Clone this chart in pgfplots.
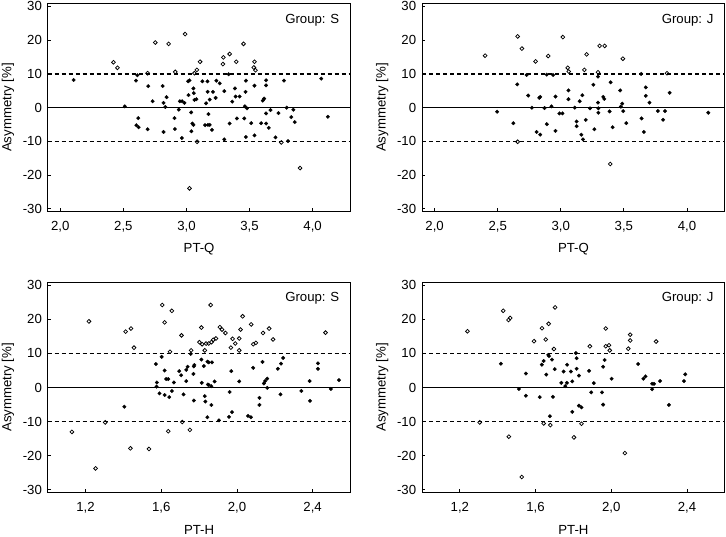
\documentclass[border=0pt]{standalone}
\usepackage{fontspec}
\setmainfont{Liberation Sans}
\usepackage{pgfplots}
\pgfplotsset{compat=1.18}

\newcommand\lblfont{\fontsize{13.2}{15}\selectfont}

\pgfplotsset{
  panel/.style={
    scale only axis, width=302.8pt, height=209.8pt,
    ymin=-30.7, ymax=30.8, ytick={-30,-20,-10,0,10,20,30},
    tick align=inside, xtick pos=bottom, ytick pos=left,
    major tick length=3pt,
    every tick/.style={black, line width=0.9pt},
    axis line style={line width=1pt},
    /pgf/number format/assume math mode=true,
    tick label style={font=\lblfont},
    xticklabel style={/pgf/number format/.cd, fixed, fixed zerofill, precision=1, use comma, /tikz/.cd, yshift=-6pt},
    yticklabel style={xshift=-2.3pt},
    every axis x label/.style={at={(rel axis cs:0.5,0)}, yshift=-37.5pt, anchor=center, font=\lblfont},
    every axis y label/.style={at={(rel axis cs:0,0.5)}, xshift=-39.7pt, rotate=90, anchor=center, font=\lblfont},
    ylabel={Asymmetry [\%]},
  },
  toprow/.style={height=207.6pt},
  inside/.style={only marks, mark=*, mark size=1.8pt, mark options={fill=black, draw=black, line width=0.3pt}},
  outside/.style={only marks, mark=o, mark size=1.9pt, mark options={draw=black, line width=0.75pt}},
  zeroline/.style={black, line width=1.5pt, forget plot},
  limitline/.style={black, line width=1.3pt, dash pattern=on 4pt off 3pt, forget plot},
}

\newcommand\grouplabel[1]{\node[anchor=north east, inner sep=0pt, font=\lblfont] at (rel axis cs:1,1) [xshift=-11pt, yshift=-10pt] {#1};}

\begin{document}
\begin{tikzpicture}
\useasboundingbox (0pt,0pt) rectangle (726pt,536pt);

% ---------------- PT-Q, group S ----------------
\begin{axis}[panel, toprow, at={(47.7pt,324.7pt)}, anchor=south west,
  xmin=1.9, xmax=4.3, xtick={2,2.5,3,3.5,4}, xlabel={PT-Q}]
\addplot[zeroline] coordinates {(1.9,0) (4.3,0)};
\addplot[limitline] coordinates {(1.9,10) (4.3,10)};
\addplot[limitline] coordinates {(1.9,-10) (4.3,-10)};
\addplot[inside] coordinates {
(2.105,8.2)(2.511,0.4)(2.600,8.0)(2.611,9.6)(2.697,6.4)(2.732,1.9)(2.811,6.4)
(2.842,3.1)(2.818,1.4)(2.832,0.2)(2.618,-3.1)(2.603,-5.2)(2.621,-5.8)(2.692,-6.4)
(2.818,-7.2)(2.905,-3.1)(2.908,-6.3)(2.939,-0.6)(2.947,1.9)(2.966,1.9)(2.984,1.4)
(2.963,-9.0)(3.013,7.8)(3.024,8.1)(3.016,3.7)(3.055,5.7)(3.058,4.3)(3.063,2.3)
(3.079,2.5)(3.037,-1.4)(3.047,-4.7)(3.055,-5.1)(3.039,-7.0)(3.126,7.8)(3.166,7.8)
(3.168,4.7)(3.155,1.3)(3.174,-1.9)(3.147,-5.2)(3.171,-5.1)
(3.237,8.0)(3.263,7.2)(3.334,9.9)(3.210,4.7)(3.231,2.9)(3.184,2.4)(3.300,4.9)
(3.384,5.7)(3.389,3.3)(3.421,3.3)(3.363,1.8)(3.468,4.7)(3.471,8.0)(3.539,6.5)
(3.463,0.4)(3.479,-0.2)(3.631,8.1)(3.631,6.6)(3.616,2.7)(3.605,2.1)(3.773,8.0)
(4.068,8.6)(3.666,-0.7)(3.729,-1.6)(3.794,0.0)(3.847,-0.6)(3.184,-5.1)(3.202,-6.6)
(3.342,-4.7)(3.400,-3.2)(3.458,-3.2)(3.513,-4.6)(3.592,-4.6)(3.631,-4.7)(3.652,-6.0)
(3.631,-1.7)(3.831,-2.8)(3.858,-4.3)(4.121,-2.7)(3.300,-9.4)(3.471,-8.7)(3.539,-8.2)
(3.705,-8.8)(3.805,-9.9)
};
\addplot[outside] coordinates {
(2.421,13.45)(2.453,11.8)(2.692,10.2)(2.753,19.3)(2.858,18.9)(2.911,10.6)(2.989,21.8)
(3.063,10.2)(3.082,11.2)(3.108,13.6)(3.084,-10.1)(3.024,-23.9)(3.292,14.9)(3.342,15.9)
(3.289,12.9)(3.394,13.6)(3.452,18.9)(3.539,13.6)(3.534,11.9)(3.547,11.1)(3.752,-10.3)
(3.900,-17.9)
};
\grouplabel{Group: S}
\end{axis}

% ---------------- PT-Q, group J ----------------
\begin{axis}[panel, toprow, at={(422pt,324.7pt)}, anchor=south west,
  xmin=1.9, xmax=4.3, xtick={2,2.5,3,3.5,4}, xlabel={PT-Q}]
\addplot[zeroline] coordinates {(1.9,0) (4.3,0)};
\addplot[limitline] coordinates {(1.9,10) (4.3,10)};
\addplot[limitline] coordinates {(1.9,-10) (4.3,-10)};
\addplot[inside] coordinates {
(2.729,9.7)(2.889,9.8)(2.939,9.7)(2.655,6.9)(2.742,3.6)(2.829,2.9)(2.837,3.2)
(2.958,3.3)(2.771,0.0)(2.871,-0.1)(2.926,0.4)(2.989,-1.7)(3.013,-1.7)(3.061,5.1)
(3.061,2.5)(2.495,-1.2)(2.624,-4.6)(2.889,-4.9)(2.808,-7.2)(2.837,-8.0)(2.958,-6.9)
(3.111,0.0)(3.150,1.9)(3.171,3.7)(3.232,-0.2)(3.258,6.8)(3.295,9.2)(3.295,1.5)
(3.298,-0.2)(3.298,-1.5)(3.337,3.2)(3.345,2.6)(3.387,-1.1)(3.395,7.5)(3.471,5.1)
(3.476,0.3)(3.487,1.2)(3.495,-1.0)(3.126,-4.1)(3.126,-5.5)(3.198,-3.6)(3.163,-8.0)
(3.176,-9.4)(3.266,-6.4)(3.411,-5.8)(3.519,-4.6)(3.637,10.0)(3.674,6.0)(3.674,3.5)
(3.703,1.5)(3.640,-3.2)(3.658,-7.2)(3.769,-1.0)(3.826,-1.0)(3.811,-3.6)(3.863,4.4)
(4.169,-1.5)
};
\addplot[outside] coordinates {
(2.400,15.4)(2.658,21.1)(2.692,17.5)(2.800,13.7)(2.900,15.3)(3.016,20.9)(3.055,11.8)
(3.063,10.7)(2.658,-10.1)(3.205,15.8)(3.308,18.3)(3.348,18.3)(3.492,14.5)(3.187,11.2)
(3.295,10.5)(3.842,10.2)(3.392,-16.7)
};
\grouplabel{Group: J}
\end{axis}

% ---------------- PT-H, group S ----------------
\begin{axis}[panel, at={(47.7pt,43.7pt)}, anchor=south west,
  xmin=1.0, xmax=2.6, xtick={1.2,1.6,2.0,2.4}, xlabel={PT-H}]
\addplot[zeroline] coordinates {(1.0,0) (2.6,0)};
\addplot[limitline] coordinates {(1.0,10) (2.6,10)};
\addplot[limitline] coordinates {(1.0,-10) (2.6,-10)};
\addplot[inside] coordinates {
(1.405,-5.6)(1.572,6.9)(1.602,9.0)(1.618,5.0)(1.626,2.5)(1.637,2.5)(1.577,1.5)
(1.575,0.3)(1.591,-1.7)(1.618,-2.2)(1.642,-2.8)(1.656,-1.0)(1.667,1.5)(1.695,4.8)
(1.705,3.6)(1.732,5.2)(1.739,6.1)(1.732,1.9)(1.718,-2.0)(1.756,9.9)(1.772,6.2)
(1.775,6.6)(1.770,4.0)(1.772,-3.8)(1.812,8.2)(1.825,6.3)(1.814,1.4)(1.830,-2.5)
(1.833,-4.1)(1.844,-8.7)(1.846,0.9)(1.844,7.6)
(1.851,7.4)(1.868,7.4)(1.851,0.8)(1.865,0.4)(1.882,1.8)(1.865,-5.1)(1.905,-9.6)
(1.958,-8.6)(1.974,-7.2)(1.961,-1.3)(1.970,4.8)(2.012,1.8)(2.058,-8.3)(2.074,-8.7)
(2.086,5.8)(2.135,7.5)(2.119,-3.0)(2.119,-5.1)(2.142,1.2)(2.149,1.9)(2.160,2.6)
(2.160,-0.1)(2.216,5.5)(2.233,7.0)(2.244,8.7)(2.230,-2.0)(2.340,-1.0)(2.384,1.9)
(2.386,-3.9)(2.428,7.1)(2.428,5.5)(2.496,-0.4)(2.539,2.2)
};
\addplot[outside] coordinates {
(1.128,-13.0)(1.218,19.4)(1.253,-23.7)(1.304,-10.2)(1.412,16.4)(1.440,17.3)(1.456,11.7)
(1.437,-17.8)(1.535,-18.0)(1.605,24.2)(1.618,19.1)(1.656,22.5)(1.637,-12.8)(1.646,10.5)
(1.707,15.3)(1.711,-10.1)(1.751,-12.4)(1.758,10.9)(1.812,17.6)(1.802,13.3)(1.816,12.7)
(1.837,12.9)(1.830,10.9)(1.861,24.2)(1.851,12.9)(1.865,13.3)(1.875,14.0)(1.889,14.4)
(1.910,17.7)(1.921,17.0)(1.939,16.0)(1.977,14.3)(1.991,12.9)(1.968,11.7)(2.012,14.4)
(2.012,10.9)(2.019,17.0)(2.030,20.9)(2.075,18.5)(2.086,12.7)(2.100,13.1)(2.138,16.0)
(2.170,17.3)(2.191,14.1)(2.468,16.1)
};
\grouplabel{Group: S}
\end{axis}

% ---------------- PT-H, group J ----------------
\begin{axis}[panel, at={(422pt,43.7pt)}, anchor=south west,
  xmin=1.0, xmax=2.6, xtick={1.2,1.6,2.0,2.4}, xlabel={PT-H}]
\addplot[zeroline] coordinates {(1.0,0) (2.6,0)};
\addplot[limitline] coordinates {(1.0,10) (2.6,10)};
\addplot[limitline] coordinates {(1.0,-10) (2.6,-10)};
\addplot[inside] coordinates {
(1.417,7.0)(1.549,4.1)(1.512,-0.4)(1.549,-2.4)(1.622,-2.8)(1.633,6.7)(1.643,7.8)
(1.657,3.8)(1.667,9.6)(1.671,9.2)(1.687,8.2)(1.701,5.4)(1.692,-2.7)(1.676,-8.4)
(1.736,1.4)(1.748,4.7)(1.757,0.4)(1.766,1.4)(1.767,6.7)
(1.787,4.7)(1.794,1.8)(1.813,10.1)(1.817,8.6)(1.817,5.5)(1.829,3.5)(1.794,-7.1)
(1.829,-5.3)(1.843,-5.8)(1.883,4.9)(1.894,-1.4)(1.908,1.3)(1.951,-1.4)(1.957,-5.0)
(1.957,6.1)(1.965,8.1)(2.002,2.6)(2.142,6.9)(2.170,2.6)(2.181,3.3)(2.216,1.1)
(2.226,1.1)(2.216,-0.5)(2.258,1.9)(2.305,-5.1)(2.384,1.9)(2.391,3.9)
};
\addplot[outside] coordinates {
(1.240,16.5)(1.305,-10.2)(1.429,22.5)(1.457,19.8)(1.466,20.4)(1.459,-14.4)(1.527,-26.2)
(1.592,13.6)(1.634,17.4)(1.654,14.1)(1.669,18.7)(1.703,23.5)(1.697,11.3)(1.643,-10.5)
(1.678,-11.0)(1.971,17.3)(1.887,12.1)(1.971,12.1)(1.988,12.4)(1.992,10.9)(2.090,11.4)
(2.100,15.5)(2.100,13.8)(2.237,13.5)(1.843,-10.6)(1.803,-14.6)(2.072,-19.2)
};
\grouplabel{Group: J}
\end{axis}
\end{tikzpicture}
\end{document}
